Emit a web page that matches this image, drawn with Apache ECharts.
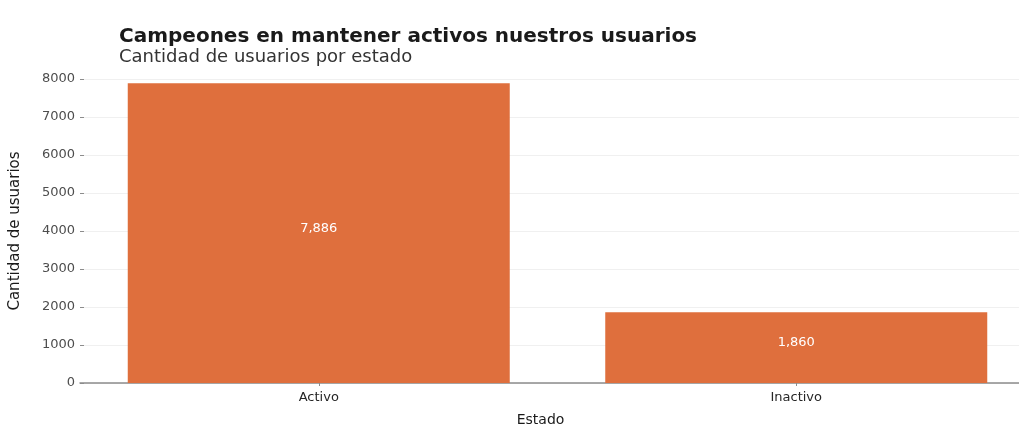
<!DOCTYPE html>
<html>
<head>
<meta charset="utf-8">
<script src="https://cdn.jsdelivr.net/npm/echarts@6/dist/echarts.min.js"></script>
<style>
  html, body { margin: 0; padding: 0; background: #ffffff; }
  #chart { width: 1019px; height: 427px; }
</style>
</head>
<body>
<div id="chart"></div>
<script>
// Users grouped by status
const estados = ['Activo', 'Inactivo'];
const usuarios = [7886, 1860];
const yTicks = [0, 1000, 2000, 3000, 4000, 5000, 6000, 7000, 8000];

const FONT = '"DejaVu Sans", Verdana, sans-serif';
const BAR_COLOR = '#DF6F3D';

const chart = echarts.init(document.getElementById('chart'), null, { renderer: 'canvas' });

chart.setOption({
  backgroundColor: '#ffffff',
  animation: false,
  title: {
    text: 'Campeones en mantener activos nuestros usuarios',
    subtext: 'Cantidad de usuarios por estado',
    left: 114,
    top: 22,
    itemGap: 1,
    textStyle: { fontFamily: FONT, fontSize: 20, fontWeight: 'bold', color: '#1a1a1a' },
    subtextStyle: { fontFamily: FONT, fontSize: 18, color: '#333333' }
  },
  grid: { left: 80, top: 79, width: 955, height: 304, outerBoundsMode: 'none', containLabel: false },
  xAxis: {
    type: 'category',
    data: estados,
    name: 'Estado',
    nameLocation: 'middle',
    nameGap: 30,
    nameTextStyle: { fontFamily: FONT, fontSize: 14, color: '#1a1a1a', padding: [0, 34, 0, 0] },
    axisLine: { show: true, lineStyle: { color: '#8c8c8c', width: 1.5 } },
    axisTick: { show: true, alignWithLabel: true, length: 3, lineStyle: { color: '#8c8c8c' } },
    axisLabel: { fontFamily: FONT, fontSize: 13, color: '#262626', margin: 8 },
    splitLine: { show: false }
  },
  yAxis: {
    type: 'value',
    min: yTicks[0],
    max: yTicks[yTicks.length - 1],
    interval: yTicks[1] - yTicks[0],
    name: 'Cantidad de usuarios',
    nameLocation: 'middle',
    nameGap: 57,
    nameRotate: 90,
    nameTextStyle: { fontFamily: FONT, fontSize: 15, color: '#1a1a1a' },
    axisLine: { show: false },
    axisTick: { show: true, inside: true, length: 4, lineStyle: { color: '#8c8c8c' } },
    axisLabel: { fontFamily: FONT, fontSize: 13, color: '#4d4d4d', margin: 5, formatter: v => String(v) },
    splitLine: { show: true, lineStyle: { color: '#f0f0f0', width: 1 } }
  },
  series: [{
    type: 'bar',
    data: usuarios,
    barWidth: '80%',
    itemStyle: { color: BAR_COLOR },
    label: {
      show: true,
      position: 'inside',
      offset: [0, -5],
      fontFamily: FONT,
      fontSize: 13,
      color: '#ffffff',
      formatter: p => p.value.toLocaleString('en-US')
    }
  }]
});
</script>
</body>
</html>
